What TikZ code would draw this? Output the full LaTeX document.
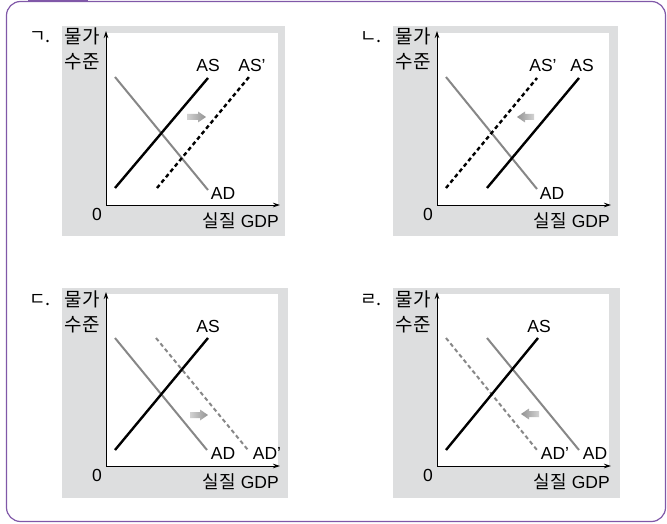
\documentclass[tikz,border=0pt]{standalone}
\usepackage{fontspec}
\setmainfont{Liberation Sans}
\newfontfamily\kr{Noto Sans CJK KR}
\usetikzlibrary{arrows.meta, positioning}

\definecolor{framecol}{RGB}{128,88,168}
\definecolor{bggray}{RGB}{221,222,223}
\definecolor{adgray}{RGB}{135,135,135}

\begin{document}
\begin{tikzpicture}[
    x=1pt, y=1pt,
    panel/.style={fill=bggray},
    plotarea/.style={fill=white},
    axis/.style={line width=0.9pt, -{Stealth[length=7pt, width=4.5pt]}},
    ascurve/.style={line width=2.4pt, draw=black},
    adcurve/.style={line width=2pt, draw=adgray},
    moved/.style={dash pattern=on 4pt off 3pt},
    lbl/.style={font=\fontsize{17.5}{20}\selectfont, inner sep=0pt},
    ylbl/.style={font=\kr\fontsize{19}{25}\selectfont, align=center, inner sep=0pt},
    tag/.style={font=\kr\fontsize{18}{20}\selectfont, anchor=east, inner sep=0pt},
    toright/.style={left color=gray!35, right color=gray!85},
    toleft/.style={left color=gray!85, right color=gray!35}
]
    \useasboundingbox (0,0) rectangle (667,-524);
    \draw[framecol, line width=1.2pt, rounded corners=14pt] (6.5,-1.5) rectangle (665.5,-521.5);
    \fill[framecol] (28,0) rectangle (88,-2.5);

    % panel 1: AS moves right
    \begin{scope}[shift={(106,-205)}]
        \fill[panel] (-44,-31) rectangle (179,179);
        \fill[plotarea] (0,0) rectangle (172,172);
        \coordinate (o1) at (0,0);
        \coordinate (y1) at (0,174);
        \coordinate (x1) at (174,0);
        \draw[axis] (o1) -- (y1);
        \draw[axis] (o1) -- (x1);
        \node[tag] (t1) at (-55,168) {ㄱ.};
        \node[ylbl] (py1) at (-24,156) {물가\\수준};
        \node[lbl] (z1) at (-9,-9) {0};
        \node[lbl, anchor=east] (gdp1) at (173,-16) {{\kr\fontsize{18}{20}\selectfont 실질} GDP};
        \draw[adcurve] (9,128) -- (102,15);
        \draw[ascurve] (9,17) -- (102,127);
        \draw[ascurve, moved] (51,17) -- (143,128);
        \node[lbl] (as1) at (102,140) {AS};
        \node[lbl] (asp1) at (146,140) {AS’};
        \node[lbl] (ad1) at (117,12) {AD};
        \shade[toright] (81,85) -- (92,85) -- (92,82.5) -- (100,88) -- (92,93.5) -- (92,91) -- (81,91) -- cycle;
    \end{scope}

    % panel 2: AS moves left
    \begin{scope}[shift={(437,-205)}]
        \fill[panel] (-44,-31) rectangle (181,179);
        \fill[plotarea] (0,0) rectangle (172,172);
        \coordinate (o2) at (0,0);
        \coordinate (y2) at (0,174);
        \coordinate (x2) at (174,0);
        \draw[axis] (o2) -- (y2);
        \draw[axis] (o2) -- (x2);
        \node[tag] (t2) at (-55,168) {ㄴ.};
        \node[ylbl] (py2) at (-24,156) {물가\\수준};
        \node[lbl] (z2) at (-9,-9) {0};
        \node[lbl, anchor=east] (gdp2) at (173,-16) {{\kr\fontsize{18}{20}\selectfont 실질} GDP};
        \draw[adcurve] (9,128) -- (100,16);
        \draw[ascurve] (50,17) -- (142,127);
        \draw[ascurve, moved] (9,17) -- (100,127);
        \node[lbl] (asp2) at (106,140) {AS’};
        \node[lbl] (as2) at (145,140) {AS};
        \node[lbl] (ad2) at (115,12) {AD};
        \shade[toleft] (97,85) -- (88,85) -- (88,82.5) -- (80,88) -- (88,93.5) -- (88,91) -- (97,91) -- cycle;
    \end{scope}

    % panel 3: AD moves right
    \begin{scope}[shift={(106,-466)}]
        \fill[panel] (-44,-32) rectangle (182,178);
        \fill[plotarea] (0,0) rectangle (172,172);
        \coordinate (o3) at (0,0);
        \coordinate (y3) at (0,174);
        \coordinate (x3) at (174,0);
        \draw[axis] (o3) -- (y3);
        \draw[axis] (o3) -- (x3);
        \node[tag] (t3) at (-55,166) {ㄷ.};
        \node[ylbl] (py3) at (-24,154) {물가\\수준};
        \node[lbl] (z3) at (-9,-9) {0};
        \node[lbl, anchor=east] (gdp3) at (173,-16) {{\kr\fontsize{18}{20}\selectfont 실질} GDP};
        \draw[adcurve] (9,128) -- (101,16);
        \draw[adcurve, moved] (50,128) -- (142,16);
        \draw[ascurve] (9,16) -- (102,128);
        \node[lbl] (as3) at (102,140) {AS};
        \node[lbl] (ad3) at (117,13) {AD};
        \node[lbl] (adp3) at (161,13) {AD’};
        \shade[toright] (84,48) -- (94,48) -- (94,45.5) -- (102,51) -- (94,56.5) -- (94,54) -- (84,54) -- cycle;
    \end{scope}

    % panel 4: AD moves left
    \begin{scope}[shift={(437,-466)}]
        \fill[panel] (-44,-32) rectangle (183,178);
        \fill[plotarea] (0,0) rectangle (172,172);
        \coordinate (o4) at (0,0);
        \coordinate (y4) at (0,174);
        \coordinate (x4) at (174,0);
        \draw[axis] (o4) -- (y4);
        \draw[axis] (o4) -- (x4);
        \node[tag] (t4) at (-55,166) {ㄹ.};
        \node[ylbl] (py4) at (-24,154) {물가\\수준};
        \node[lbl] (z4) at (-9,-9) {0};
        \node[lbl, anchor=east] (gdp4) at (173,-16) {{\kr\fontsize{18}{20}\selectfont 실질} GDP};
        \draw[adcurve] (50,128) -- (142,16);
        \draw[adcurve, moved] (9,128) -- (100,16);
        \draw[ascurve] (9,16) -- (101,128);
        \node[lbl] (as4) at (102,140) {AS};
        \node[lbl] (adp4) at (118,13) {AD’};
        \node[lbl] (ad4) at (158,13) {AD};
        \shade[toleft] (102,49) -- (92,49) -- (92,46.5) -- (84,52) -- (92,57.5) -- (92,55) -- (102,55) -- cycle;
    \end{scope}
\end{tikzpicture}
\end{document}
